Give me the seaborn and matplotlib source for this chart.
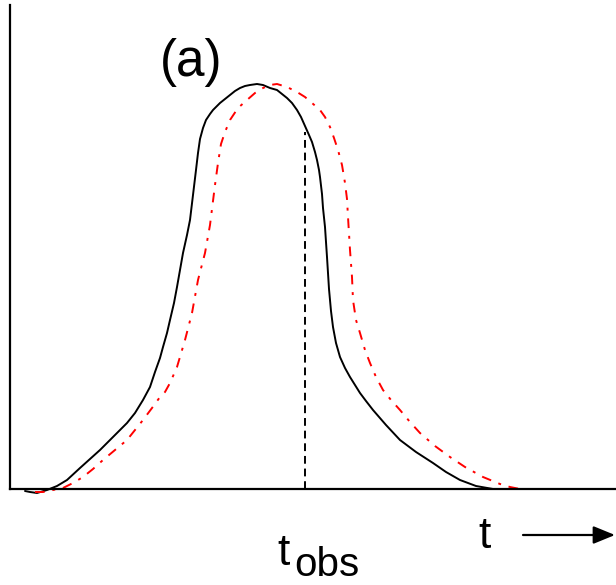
import matplotlib
matplotlib.use("Agg")
import matplotlib.pyplot as plt
import seaborn as sns
import pandas as pd
import numpy as np

sns.set_theme(style="white")
plt.rcParams['font.family'] = ['Liberation Sans', 'DejaVu Sans']
plt.rcParams['text.color'] = 'black'

# Observed (black, solid) curve: time and intensity
t_black = [25, 30, 37, 47, 57, 67, 80, 90, 100, 113, 127, 135, 143, 150, 155, 160, 163, 167, 170, 174,
           177, 180, 183, 187, 190, 193, 196, 198, 200, 203, 206, 210, 213, 216, 220, 225, 230, 235,
           240, 245, 250, 257, 263, 270, 277, 282, 287, 292, 297, 301, 305, 309, 312, 315, 317, 319,
           320, 322, 323, 325, 327, 329, 331, 333, 336, 340, 345, 350, 355, 360, 366, 373,
           386, 400, 416, 433, 446, 460, 476, 493]
y_black = [-2, -3, -4, -1, 3, 9, 21, 30, 39, 52, 66, 76, 89, 102, 117, 131, 142, 156, 169, 186,
           202, 219, 236, 254, 269, 294, 319, 336, 350, 361, 369, 375, 379, 382, 386, 390, 394, 398,
           401, 403, 404, 405, 404, 401, 399, 395, 391, 386, 379, 372, 363, 354, 347, 337, 329, 319,
           312, 295, 281, 262, 232, 200, 178, 162, 146, 132, 121, 112, 104, 96, 88, 79,
           64, 49, 37, 26, 17, 9, 3, 0]

# Shifted (red, dash-dot) curve
t_red = [35, 43, 53, 63, 73, 83, 93, 103, 115, 127, 135, 143, 152, 160, 165, 170, 177, 185, 192, 198,
         205, 210, 215, 218, 221, 225, 230, 238, 247, 255, 263, 270, 277, 287, 297, 305, 312, 320,
         325, 330, 334, 338, 342, 345, 347, 348, 350, 352, 353, 356, 360, 365, 370, 376, 383, 391,
         400, 410, 420, 435, 450, 465, 483, 500, 510, 520]
y_red = [-3, -3, -1, 1, 6, 12, 20, 29, 39, 49, 59, 69, 81, 92, 97, 106, 122, 149, 176, 209,
         236, 264, 304, 326, 345, 357, 369, 381, 389, 396, 401, 404, 405, 402, 397, 392, 386, 379,
         372, 362, 351, 339, 324, 306, 290, 272, 239, 212, 189, 169, 156, 139, 126, 112, 99, 89,
         79, 67, 56, 43, 32, 22, 12, 5, 2, 0]

t_obs = 305
t_obs_top = 357

W, H = 616, 585
fig = plt.figure(figsize=(W / 100, H / 100), dpi=100)
ax = fig.add_axes([10 / W, (H - 489) / H, (W - 10) / W, (489 - 5) / H])

df_b = pd.DataFrame({"t": t_black, "y": y_black})
df_r = pd.DataFrame({"t": t_red, "y": y_red})

sns.lineplot(data=df_b, x="t", y="y", ax=ax, color="black", lw=1.4, sort=False,
             estimator=None)
sns.lineplot(data=df_r, x="t", y="y", ax=ax, color="red", lw=1.4, sort=False,
             estimator=None, dashes=False)
ax.lines[1].set_dashes([5, 4, 1.5, 4])
for ln in ax.lines:
    ln.set_clip_on(False)
    ln.set_solid_joinstyle("round")
    ln.set_dash_joinstyle("round")

ax.plot([t_obs, t_obs], [0, t_obs_top], color="black", lw=1.4, dashes=[4, 2.5])

ax.set_xlim(10, 616)
ax.set_ylim(0, 484)
ax.set_xticks([])
ax.set_yticks([])
ax.set_xlabel("")
ax.set_ylabel("")
for s in ["top", "right"]:
    ax.spines[s].set_visible(False)
for s in ["left", "bottom"]:
    ax.spines[s].set_color("black")
    ax.spines[s].set_linewidth(1.6)
ax.set_facecolor("none")

# texts (figure pixel coords)
fig.text(191 / W, (H - 76) / H, "(a)", fontsize=37, ha="center", va="baseline", color="black")
fig.text(277 / W, (H - 565) / H, "t", fontsize=32, ha="left", va="baseline", color="black")
fig.text(294 / W, (H - 576) / H, "obs", fontsize=29, ha="left", va="baseline", color="black")
fig.text(485 / W, (H - 548) / H, "t", fontsize=32, ha="center", va="baseline", color="black")

ax.annotate("", xy=(615, H - 535), xytext=(523, H - 535),
            xycoords="figure pixels", textcoords="figure pixels",
            arrowprops=dict(arrowstyle="-|>,head_length=1.1,head_width=0.45",
                            color="black", lw=1.6, shrinkA=0, shrinkB=0))

fig.savefig("out.png", dpi=100)
